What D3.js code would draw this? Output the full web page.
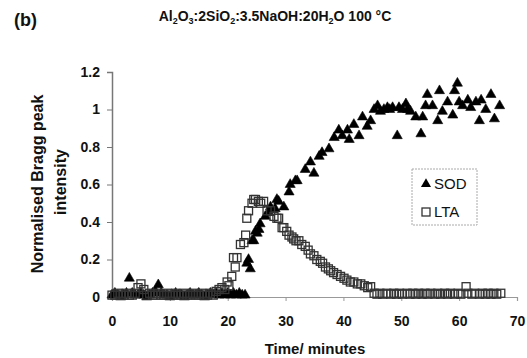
<!DOCTYPE html>
<html>
<head>
<meta charset="utf-8">
<script src="https://cdn.jsdelivr.net/npm/d3@7"></script>
<style>
  html, body { margin: 0; padding: 0; background: #fff; }
  svg { display: block; font-family: "Liberation Sans", Arial, sans-serif; }
</style>
</head>
<body>
<svg id="chart" width="527" height="358"></svg>
<script>
// ---------------- data ----------------
const xTicks = [0, 10, 20, 30, 40, 50, 60, 70];
const yTicks = [0, 0.2, 0.4, 0.6, 0.8, 1, 1.2];
const yTickLabels = ["0", "0.2", "0.4", "0.6", "0.8", "1", "1.2"];

const seriesNames = ["SOD", "LTA"];

// SOD (filled triangles)
const sodTime = [
  0, 0.5, 1, 1.5, 2, 2.5, 3, 3.5, 4, 4.5, 5, 5.5, 6, 6.5, 7, 7.5, 8, 8.5, 9, 9.5,
  10, 10.5, 11, 11.5, 12, 12.5, 13, 13.5, 14, 14.5, 15, 15.5, 16, 16.5, 17, 17.5,
  18, 18.5, 19, 19.5, 20, 20.5, 21, 21.5, 22, 22.5, 23,
  23.3, 23.6, 23.9, 24.2, 24.5, 24.8, 25.1, 25.4, 25.6, 26.5, 27.1, 27.4, 28.2, 28.5,
  28.8, 29.7, 30.6, 30.8, 31.7, 32.0, 33.4, 34.3, 34.9, 35.8, 36.3, 37.5, 38.4, 39.2,
  39.8, 40.7, 41.0, 41.8, 42.7, 43.3, 44.1, 44.7, 45.3, 45.9, 46.4, 47.0, 47.6, 48.0,
  48.5, 49.3, 49.6, 50.2, 50.8, 51.1, 51.6, 52.5, 53.4, 53.7, 54.2, 54.5, 55.4, 56.3,
  56.6, 57.1, 58.0, 58.9, 59.2, 59.7, 60.0, 60.6, 61.5, 62.0, 62.9, 63.5, 63.8, 64.6,
  65.5, 66.1, 67.0
];
const sodValue = [
  0.01, 0.02, 0.01, 0.00, 0.01, 0.02, 0.10, 0.02, 0.01, 0.01, 0.02, 0.01, 0.00, 0.01, 0.02, 0.03, 0.065, 0.02, 0.01, 0.01,
  0.00, 0.01, 0.02, 0.01, 0.01, 0.00, 0.01, 0.02, 0.01, 0.01, 0.02, 0.01, 0.00, 0.01, 0.02, 0.01,
  0.02, 0.01, 0.02, 0.01, 0.02, 0.01, 0.02, 0.01, 0.02, 0.01, 0.01,
  0.18, 0.20, 0.15, 0.30, 0.30, 0.35, 0.34, 0.36, 0.39, 0.43, 0.45, 0.48, 0.47, 0.52,
  0.51, 0.48, 0.56, 0.60, 0.62, 0.62, 0.68, 0.72, 0.66, 0.75, 0.77, 0.79, 0.85, 0.89,
  0.86, 0.89, 0.84, 0.92, 0.86, 0.96, 0.91, 0.94, 1.00, 1.02, 0.99, 1.00, 1.01, 1.00,
  1.01, 0.86, 1.01, 1.00, 1.03, 1.00, 0.99, 0.96, 0.87, 0.96, 1.02, 1.08, 1.02, 0.94,
  1.10, 0.99, 1.04, 0.97, 1.10, 1.14, 1.04, 1.02, 1.05, 1.01, 1.04, 0.94, 1.05, 1.00,
  1.08, 0.95, 1.02
];

// LTA (open squares)
const ltaTime = [
  0, 0.5, 1, 1.5, 2, 2.5, 3, 3.5, 4, 4.5, 5, 5.5, 6, 6.5, 7, 7.5, 8, 8.5, 9, 9.5,
  10, 10.5, 11, 11.5, 12, 12.5, 13, 13.5, 14, 14.5, 15, 15.5, 16, 16.5, 17, 17.5,
  18, 18.5, 19, 19.5, 19.9, 20.2, 20.7, 21.0, 21.3, 21.6, 22.2, 22.8, 23.1, 23.3,
  23.6, 24.2, 24.5, 24.8, 25.3, 25.7, 26.2, 26.8, 27.4, 28.0, 28.5, 28.8, 29.4, 29.7,
  30.2, 30.6, 31.1, 31.4, 31.8, 32.3, 32.8, 33.4, 33.9, 34.3, 34.9, 35.4, 36.0, 36.4,
  36.9, 37.4, 37.8, 38.3, 38.9, 39.5, 40.1, 40.6, 41.2, 41.8, 42.4, 43.0, 43.6, 44.2,
  44.7, 45.3, 45.8, 46.3, 46.8, 47.5, 48.2, 48.7, 49.2, 49.7, 50.2, 51.0, 51.5, 52.0,
  52.5, 53.0, 53.6, 54.1, 54.6, 55.1, 55.8, 56.3, 56.8, 57.5, 58.0, 58.5, 59.2, 59.8,
  60.3, 61.2, 61.5, 62.2, 62.7, 63.5, 64.0, 64.5, 65.0, 65.5, 66.0, 66.5, 67.2
];
const ltaValue = [
  0.01, 0.01, 0.02, 0.01, 0.01, 0.02, 0.01, 0.01, 0.02, 0.05, 0.07, 0.04, 0.01, 0.02, 0.01, 0.01, 0.02, 0.01, 0.01, 0.02,
  0.01, 0.01, 0.02, 0.01, 0.01, 0.02, 0.01, 0.01, 0.02, 0.01, 0.01, 0.02, 0.01, 0.01, 0.02, 0.01,
  0.03, 0.04, 0.05, 0.04, 0.08, 0.06, 0.11, 0.21, 0.16, 0.21, 0.28, 0.29, 0.33, 0.42,
  0.46, 0.50, 0.52, 0.52, 0.51, 0.50, 0.51, 0.46, 0.46, 0.43, 0.42, 0.42, 0.37, 0.37,
  0.35, 0.33, 0.32, 0.31, 0.30, 0.30, 0.28, 0.27, 0.25, 0.23, 0.22, 0.20, 0.19, 0.18,
  0.16, 0.15, 0.14, 0.13, 0.12, 0.11, 0.10, 0.09, 0.08, 0.08, 0.07, 0.07, 0.06, 0.05,
  0.055, 0.02, 0.015, 0.02, 0.015, 0.02, 0.015, 0.02, 0.015, 0.02, 0.015, 0.02, 0.015, 0.02,
  0.015, 0.02, 0.015, 0.02, 0.015, 0.02, 0.015, 0.02, 0.015, 0.02, 0.015, 0.02, 0.015, 0.02,
  0.015, 0.055, 0.02, 0.015, 0.02, 0.015, 0.02, 0.015, 0.02, 0.015, 0.02, 0.015, 0.02
];

// ---------------- drawing ----------------
const FONT = "'Liberation Sans', Arial, sans-serif";
const svg = d3.select("#chart");
const x = d3.scaleLinear().domain([0, 70]).range([112, 517]);
const y = d3.scaleLinear().domain([0, 1.2]).range([297, 72]);

const sod = sodTime.map((t, i) => ({ t, v: sodValue[i] }));
const lta = ltaTime.map((t, i) => ({ t, v: ltaValue[i] }));

// title with subscripts
const title = svg.append("text")
  .attr("x", 275).attr("y", 21)
  .attr("text-anchor", "middle")
  .attr("font-size", 14).attr("font-weight", "bold").attr("fill", "#111");
const parts = [["Al", 0], ["2", 1], ["O", 0], ["3", 1], [":2SiO", 0], ["2", 1], [":3.5NaOH:20H", 0], ["2", 1], ["O 100 \u00B0C", 0]];
let prevSub = 0;
parts.forEach(([s, sub]) => {
  const ts = title.append("tspan").text(s);
  if (sub) ts.attr("font-size", 9).attr("dy", 3);
  else if (prevSub) ts.attr("dy", -3);
  prevSub = sub;
});

svg.append("text").attr("x", 14).attr("y", 26)
  .attr("font-size", 18).attr("font-weight", "bold").attr("fill", "#111")
  .text("(b)");

// x axis
const xAxis = svg.append("g").attr("transform", "translate(0,297)")
  .call(d3.axisBottom(x).tickValues(xTicks).tickSize(4).tickPadding(15).tickFormat(d3.format("d")));
xAxis.select(".domain").attr("stroke", "#999").attr("stroke-width", 1.2);
xAxis.selectAll(".tick line").attr("stroke", "#999");
xAxis.selectAll("text").attr("font-size", 14).attr("font-weight", "bold")
  .attr("fill", "#111").attr("font-family", FONT);

// y axis
const yAxis = svg.append("g").attr("transform", "translate(112,0)")
  .call(d3.axisLeft(y).tickValues(yTicks).tickSize(5).tickPadding(7)
    .tickFormat((d, i) => yTickLabels[i]));
yAxis.select(".domain").attr("stroke", "#777").attr("stroke-width", 1.5);
yAxis.selectAll(".tick line").attr("stroke", "#777");
yAxis.selectAll("text").attr("font-size", 14).attr("font-weight", "bold")
  .attr("fill", "#111").attr("font-family", FONT);

// axis titles
svg.append("text").attr("x", 315).attr("y", 354)
  .attr("text-anchor", "middle").attr("font-size", 15).attr("font-weight", "bold")
  .attr("fill", "#111").text("Time/ minutes");
svg.append("text").attr("transform", "translate(43,184) rotate(-90)")
  .attr("text-anchor", "middle").attr("font-size", 16).attr("font-weight", "bold")
  .attr("fill", "#111").text("Normalised Bragg peak");
svg.append("text").attr("transform", "translate(66,182) rotate(-90)")
  .attr("text-anchor", "middle").attr("font-size", 16).attr("font-weight", "bold")
  .attr("fill", "#111").text("intensity");

// markers
const tri = d3.symbol().type(d3.symbolTriangle).size(44);
svg.append("g").selectAll("path").data(sod).join("path")
  .attr("d", tri)
  .attr("transform", d => `translate(${x(d.t)},${y(d.v)})`)
  .attr("fill", "#000").attr("stroke", "#000").attr("stroke-width", 0.6);

svg.append("g").selectAll("rect").data(lta).join("rect")
  .attr("x", d => x(d.t) - 4).attr("y", d => y(d.v) - 4)
  .attr("width", 8).attr("height", 8)
  .attr("fill", "none").attr("stroke", "#333").attr("stroke-width", 1.3);

// legend
const lg = svg.append("g");
lg.append("rect").attr("x", 412).attr("y", 169).attr("width", 65).attr("height", 56)
  .attr("fill", "#fff").attr("stroke", "#aaa").attr("stroke-dasharray", "2,1");
lg.append("path").attr("d", tri).attr("transform", "translate(426,184)").attr("fill", "#000");
lg.append("rect").attr("x", 422).attr("y", 208).attr("width", 8).attr("height", 8)
  .attr("fill", "none").attr("stroke", "#333").attr("stroke-width", 1.3);
lg.append("text").attr("x", 434).attr("y", 189).attr("font-size", 15).attr("fill", "#111").text(seriesNames[0]);
lg.append("text").attr("x", 434).attr("y", 217).attr("font-size", 15).attr("fill", "#111").text(seriesNames[1]);
</script>
</body>
</html>
